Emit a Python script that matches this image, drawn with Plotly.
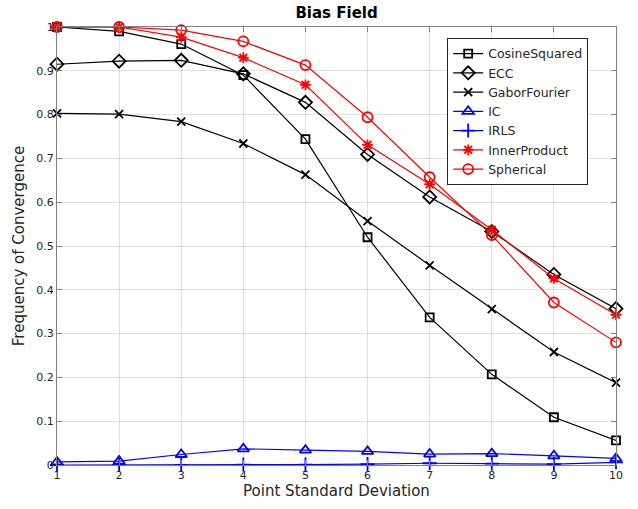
import plotly.graph_objects as go

x_vals = [1, 2, 3, 4, 5, 6, 7, 8, 9, 10]
cosine_squared = [1.0, 0.99, 0.961, 0.890, 0.744, 0.520, 0.337, 0.207, 0.109, 0.056]
ecc = [0.915, 0.922, 0.924, 0.893, 0.828, 0.709, 0.612, 0.533, 0.435, 0.357]
gabor_fourier = [0.803, 0.801, 0.784, 0.734, 0.663, 0.557, 0.456, 0.356, 0.258, 0.188]
ic = [0.007, 0.009, 0.024, 0.037, 0.034, 0.031, 0.025, 0.026, 0.021, 0.015]
irls = [0.0, 0.0, 0.0, 0.001, 0.001, 0.002, 0.004, 0.003, 0.002, 0.006]
inner_product = [1.0, 1.0, 0.977, 0.930, 0.868, 0.731, 0.641, 0.537, 0.426, 0.343]
spherical = [1.0, 1.0, 0.993, 0.967, 0.913, 0.794, 0.657, 0.525, 0.371, 0.280]

y_ticks = [0, 0.1, 0.2, 0.3, 0.4, 0.5, 0.6, 0.7, 0.8, 0.9, 1]
y_tick_labels = ["0", "0.1", "0.2", "0.3", "0.4", "0.5", "0.6", "0.7", "0.8", "0.9", "1"]

series = [
    ("CosineSquared", cosine_squared, "black", "square-open", 8),
    ("ECC", ecc, "black", "diamond-open", 10),
    ("GaborFourier", gabor_fourier, "black", "x-thin-open", 8),
    ("IC", ic, "blue", "triangle-up-open", 10),
    ("IRLS", irls, "blue", "cross-thin-open", 10),
    ("InnerProduct", inner_product, "red", "asterisk-open", 9),
    ("Spherical", spherical, "red", "circle-open", 10),
]

fig = go.Figure()
for name, vals, color, sym, size in series:
    fig.add_trace(go.Scatter(
        x=x_vals, y=vals, name=name, mode="lines+markers", cliponaxis=False,
        line=dict(color=color, width=1.2),
        marker=dict(symbol=sym, size=size, color=color, line=dict(color=color, width=1.8)),
    ))

axis_common = dict(
    showgrid=True, gridcolor="rgba(0,0,0,0.12)", gridwidth=1,
    showline=True, linecolor="#808080", linewidth=1, mirror="ticks",
    ticks="inside", ticklen=5, tickcolor="#808080",
    tickfont=dict(family="DejaVu Sans", size=11, color="#262626"),
    zeroline=False,
)

fig.update_layout(
    width=638, height=509,
    margin=dict(l=57, r=22, t=27, b=44),
    paper_bgcolor="white", plot_bgcolor="white",
    title=dict(text="<b>Bias Field</b>", x=0.5275, xanchor="center", y=0.975, yanchor="middle",
               font=dict(family="DejaVu Sans", size=15, color="black")),
    xaxis=dict(range=[1, 10], tickvals=x_vals, ticktext=[str(v) for v in x_vals],
               title=dict(text="Point Standard Deviation", standoff=4,
                          font=dict(family="DejaVu Sans", size=15, color="#262626")),
               **axis_common),
    yaxis=dict(range=[0, 1], tickvals=y_ticks, ticktext=y_tick_labels,
               title=dict(text="Frequency of Convergence", standoff=8,
                          font=dict(family="DejaVu Sans", size=15, color="#262626")),
               **axis_common),
    legend=dict(x=0.698, y=0.975, xanchor="left", yanchor="top",
                bgcolor="white", bordercolor="#262626", borderwidth=1,
                font=dict(family="DejaVu Sans", size=12.5, color="#262626"),
                tracegroupgap=0, itemwidth=30),
    showlegend=True,
)

fig.write_html("out.html")
